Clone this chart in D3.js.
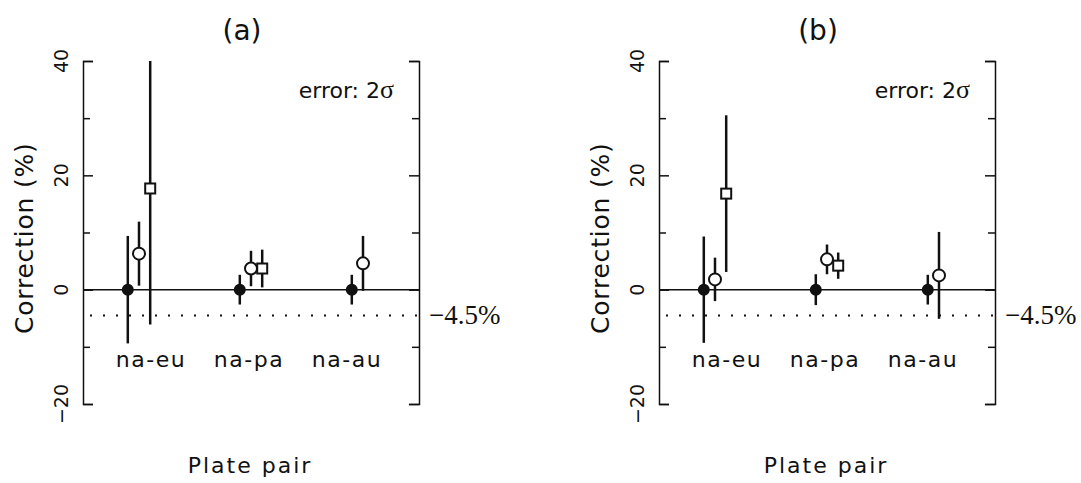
<!DOCTYPE html>
<html>
<head>
<meta charset="utf-8">
<script src="https://cdn.jsdelivr.net/npm/d3@7"></script>
<style>
  body { margin: 0; background: #fff; }
  text { font-family: "DejaVu Sans", sans-serif; fill: #111; }
</style>
</head>
<body>
<div id="chart"></div>
<script>
// plate pairs on the x axis
var pairs = ["na-eu", "na-pa", "na-au"];
var majorTicks = [-20, 0, 20, 40];
var minorTicks = [-10, 10, 30];
var shift = -4.5;

// panel (a)
var refA = [0, 0, 0];
var refErrA = [9.4, 2.6, 2.6];
var circA = [6.3, 3.7, 4.6];
var circErrA = [5.6, 3.1, 4.8];
var sqA = [17.7, 3.7, null];
var sqErrA = [23.8, 3.3, null];

// panel (b)
var refB = [0, 0, 0];
var refErrB = [9.3, 2.7, 2.6];
var circB = [1.8, 5.3, 2.5];
var circErrB = [3.8, 2.6, 7.6];
var sqB = [16.8, 4.2, null];
var sqErrB = [13.7, 2.3, null];

var svgWidth = 1081;
var svgHeight = 483;
var width = 336;
var height = 343;

var svg = d3.select("#chart")
    .append("svg")
    .attr("width", svgWidth)
    .attr("height", svgHeight);

var x = d3.scaleLinear().domain([0.5, 3.5]).range([0, width]);
var y = d3.scaleLinear().domain([-20, 40]).range([height, 0]);
var labelX = d3.scalePoint().domain(pairs).range([68, 264]);

function drawPanel(left, id, title, ref, refErr, circ, circErr, sq, sqErr) {
    var g = svg.append("g")
        .attr("transform", `translate(${left}, 61)`);

    g.append("clipPath").attr("id", "clip" + id)
        .append("rect").attr("x", 0).attr("y", 0)
        .attr("width", width).attr("height", height);

    // axes, ticks pointing inward (major longer than minor)
    g.append("g").call(d3.axisLeft(y).tickValues(majorTicks).tickSize(-10).tickFormat(""));
    g.append("g").call(d3.axisLeft(y).tickValues(minorTicks).tickSize(-7).tickSizeOuter(0).tickFormat(""))
        .select(".domain").remove();
    g.append("g").attr("transform", `translate(${width}, 0)`)
        .call(d3.axisRight(y).tickValues(majorTicks).tickSize(-10).tickFormat(""));
    g.append("g").attr("transform", `translate(${width}, 0)`)
        .call(d3.axisRight(y).tickValues(minorTicks).tickSize(-7).tickSizeOuter(0).tickFormat(""))
        .select(".domain").remove();
    g.selectAll(".domain, .tick line").attr("stroke", "#111").attr("stroke-width", 1.5);

    g.selectAll(".ylab")
        .data(majorTicks)
        .enter()
        .append("text")
        .attr("transform", d => `translate(-15, ${y(d)}) rotate(-90)`)
        .attr("text-anchor", "middle")
        .style("font-size", "19px")
        .text(d => d3.format("")(d));

    g.append("text")
        .attr("transform", `translate(-50, ${y(9)}) rotate(-90)`)
        .attr("text-anchor", "middle")
        .style("font-size", "25px")
        .style("letter-spacing", "0.8px")
        .text("Correction (%)");

    g.append("text")
        .attr("x", 159).attr("y", -21)
        .attr("text-anchor", "middle")
        .style("font-size", "28px")
        .text(title);

    g.append("text")
        .attr("x", 167).attr("y", 412)
        .attr("text-anchor", "middle")
        .style("font-size", "22px")
        .style("letter-spacing", "2px")
        .text("Plate pair");

    g.append("text")
        .attr("x", 311).attr("y", 37)
        .attr("text-anchor", "end")
        .style("font-size", "22px")
        .html('error: 2<tspan style="font-family: \'Liberation Serif\', serif; font-size: 26px">σ</tspan>');

    g.append("text")
        .attr("x", width + 10).attr("y", y(shift) + 9)
        .style("font-family", "'Liberation Serif', serif")
        .style("font-size", "27px")
        .text("−4.5%");

    // zero line and the -4.5% dotted line
    g.append("line")
        .attr("x1", 0).attr("x2", width)
        .attr("y1", y(0)).attr("y2", y(0))
        .attr("stroke", "#111").attr("stroke-width", 1.5);
    g.append("line")
        .attr("x1", 7).attr("x2", width)
        .attr("y1", y(shift)).attr("y2", y(shift))
        .attr("stroke", "#111").attr("stroke-width", 2)
        .attr("stroke-dasharray", "2,11");

    g.selectAll(".pair")
        .data(pairs)
        .enter()
        .append("text")
        .attr("x", d => labelX(d))
        .attr("y", 306)
        .attr("text-anchor", "middle")
        .style("font-size", "22px")
        .style("letter-spacing", "1.5px")
        .text(d => d);

    var series = [
        {vals: ref, errs: refErr, off: -0.1, shape: "dot"},
        {vals: circ, errs: circErr, off: 0, shape: "circle"},
        {vals: sq, errs: sqErr, off: 0.1, shape: "square"}
    ];

    series.forEach(function(s) {
        var pts = s.vals.map((v, i) => ({i: i + 1, v: v, e: s.errs[i]}))
            .filter(d => d.v !== null);

        g.append("g").attr("clip-path", `url(#clip${id})`)
            .selectAll("line")
            .data(pts)
            .enter()
            .append("line")
            .attr("x1", d => x(d.i + s.off))
            .attr("x2", d => x(d.i + s.off))
            .attr("y1", d => y(d.v + d.e))
            .attr("y2", d => y(d.v - d.e))
            .attr("stroke", "#111")
            .attr("stroke-width", 2.5);

        if (s.shape === "square") {
            g.selectAll(".sq" + id)
                .data(pts)
                .enter()
                .append("rect")
                .attr("x", d => x(d.i + s.off) - 5)
                .attr("y", d => y(d.v) - 5)
                .attr("width", 10).attr("height", 10)
                .attr("fill", "#fff")
                .attr("stroke", "#111").attr("stroke-width", 2);
        } else {
            g.selectAll(".c" + s.shape + id)
                .data(pts)
                .enter()
                .append("circle")
                .attr("cx", d => x(d.i + s.off))
                .attr("cy", d => y(d.v))
                .attr("r", s.shape === "dot" ? 5 : 6)
                .attr("fill", s.shape === "dot" ? "#111" : "#fff")
                .attr("stroke", "#111").attr("stroke-width", 2);
        }
    });
}

drawPanel(83, "a", "(a)", refA, refErrA, circA, circErrA, sqA, sqErrA);
drawPanel(659, "b", "(b)", refB, refErrB, circB, circErrB, sqB, sqErrB);
</script>
</body>
</html>
